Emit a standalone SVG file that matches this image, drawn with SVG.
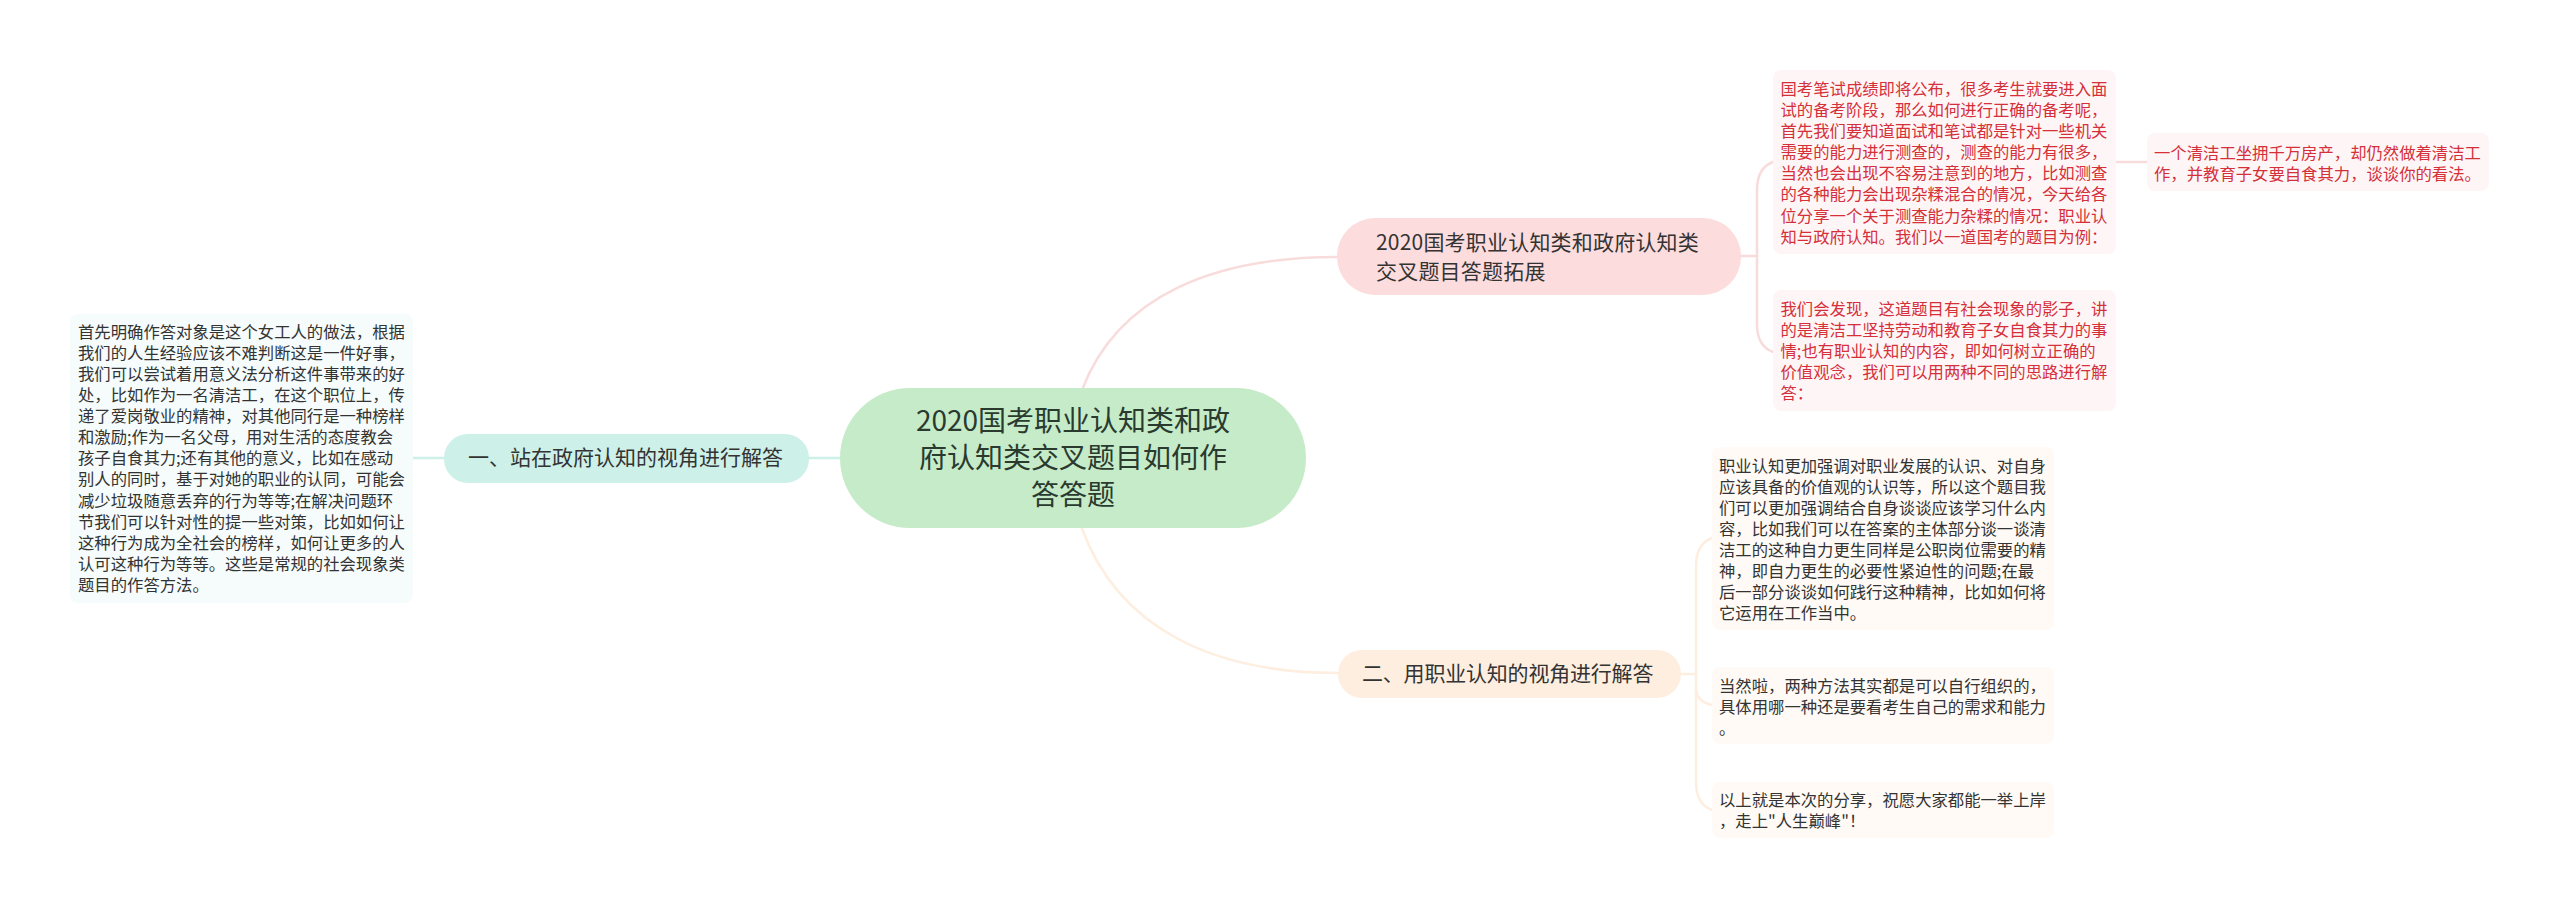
<svg xmlns="http://www.w3.org/2000/svg" width="2560" height="909" viewBox="0 0 2560 909">
<style>
text{font-family:"Noto Sans CJK SC","Noto Sans",sans-serif;fill:#333}
.d{font-size:16.35px}
.r{fill:#d5303a}
.b{font-size:21px}
.c{font-size:28px;text-anchor:middle;fill:#2a3a2e}
.l{fill:none;stroke-width:2.5;stroke-linecap:round}
.lp{stroke:#f8dcdc}.lm{stroke:#cdf0e8}.lo{stroke:#fdeee0}
</style>
<rect width="2560" height="909" fill="#fff"/>
<g id="connectors">
<path class="l lp" d="M1082 390C1118 295 1215 257 1337 257"/>
<path class="l lo" d="M1081 526C1118 630 1215 673 1338 673"/>
<path class="l lm" d="M809 458H840"/>
<path class="l lm" d="M413 458H444"/>
<path class="l lp" d="M1741 256H1757"/>
<path class="l lp" d="M1773 162C1762 166 1757 176 1757 190V324C1757 338 1762 348 1773 352"/>
<path class="l lp" d="M2116 162H2147"/>
<path class="l lo" d="M1681 674H1696"/>
<path class="l lo" d="M1712 538C1701 542 1696 552 1696 566V782C1696 796 1701 806 1712 810"/>
<path class="l lo" d="M1696 690C1697 698 1703 703 1712 705"/>
</g>
<g id="root">
<rect x="840" y="388" width="466" height="140" rx="70" fill="#c5ebc9"/>
<text class="c" x="1073" y="431">2020国考职业认知类和政</text>
<text class="c" x="1073" y="468">府认知类交叉题目如何作</text>
<text class="c" x="1073" y="505">答答题</text>
</g>
<g id="branch-1">
<rect x="1337" y="218" width="404" height="77" rx="38" fill="#fcdcdc"/>
<text class="b" x="1376" y="250" letter-spacing="0.2">2020国考职业认知类和政府认知类</text>
<text class="b" x="1376" y="279" letter-spacing="0.2">交叉题目答题拓展</text>
</g>
<g id="branch-2">
<rect x="1338" y="650" width="343" height="48" rx="24" fill="#fdeee0"/>
<text class="b" x="1362" y="681" letter-spacing="-0.2">二、用职业认知的视角进行解答</text>
</g>
<g id="branch-3">
<rect x="444" y="434" width="365" height="49" rx="24" fill="#cdf0e8"/>
<text class="b" x="468" y="465">一、站在政府认知的视角进行解答</text>
</g>
<g id="note-1">
<rect x="1773" y="70" width="343" height="184" rx="8" fill="#fef6f6"/>
<text class="d r" x="1780.5" y="95">国考笔试成绩即将公布，很多考生就要进入面</text>
<text class="d r" x="1780.5" y="116">试的备考阶段，那么如何进行正确的备考呢，</text>
<text class="d r" x="1780.5" y="137">首先我们要知道面试和笔试都是针对一些机关</text>
<text class="d r" x="1780.5" y="158">需要的能力进行测查的，测查的能力有很多，</text>
<text class="d r" x="1780.5" y="179">当然也会出现不容易注意到的地方，比如测查</text>
<text class="d r" x="1780.5" y="200">的各种能力会出现杂糅混合的情况，今天给各</text>
<text class="d r" x="1780.5" y="222">位分享一个关于测查能力杂糅的情况：职业认</text>
<text class="d r" x="1780.5" y="243">知与政府认知。我们以一道国考的题目为例：</text>
</g>
<g id="note-2">
<rect x="1773" y="290" width="343" height="121" rx="8" fill="#fef6f6"/>
<text class="d r" x="1780.5" y="315">我们会发现，这道题目有社会现象的影子，讲</text>
<text class="d r" x="1780.5" y="336">的是清洁工坚持劳动和教育子女自食其力的事</text>
<text class="d r" x="1780.5" y="357">情;也有职业认知的内容，即如何树立正确的</text>
<text class="d r" x="1780.5" y="378">价值观念，我们可以用两种不同的思路进行解</text>
<text class="d r" x="1780.5" y="399">答：</text>
</g>
<g id="note-3">
<rect x="2147" y="133" width="342" height="58" rx="8" fill="#fef6f6"/>
<text class="d r" x="2154" y="159">一个清洁工坐拥千万房产，却仍然做着清洁工</text>
<text class="d r" x="2154" y="180">作，并教育子女要自食其力，谈谈你的看法。</text>
</g>
<g id="note-4">
<rect x="1712" y="447" width="342" height="183" rx="8" fill="#fffaf5"/>
<text class="d" x="1719" y="472">职业认知更加强调对职业发展的认识、对自身</text>
<text class="d" x="1719" y="493">应该具备的价值观的认识等，所以这个题目我</text>
<text class="d" x="1719" y="514">们可以更加强调结合自身谈谈应该学习什么内</text>
<text class="d" x="1719" y="535">容，比如我们可以在答案的主体部分谈一谈清</text>
<text class="d" x="1719" y="556">洁工的这种自力更生同样是公职岗位需要的精</text>
<text class="d" x="1719" y="577">神，即自力更生的必要性紧迫性的问题;在最</text>
<text class="d" x="1719" y="598">后一部分谈谈如何践行这种精神，比如如何将</text>
<text class="d" x="1719" y="619">它运用在工作当中。</text>
</g>
<g id="note-5">
<rect x="1712" y="667" width="342" height="77" rx="8" fill="#fffaf5"/>
<text class="d" x="1719" y="692">当然啦，两种方法其实都是可以自行组织的，</text>
<text class="d" x="1719" y="713">具体用哪一种还是要看考生自己的需求和能力</text>
<text class="d" x="1719" y="734">。</text>
</g>
<g id="note-6">
<rect x="1712" y="782" width="342" height="56" rx="8" fill="#fffaf5"/>
<text class="d" x="1719" y="806">以上就是本次的分享，祝愿大家都能一举上岸</text>
<text class="d" x="1719" y="827">，走上"人生巅峰"！</text>
</g>
<g id="note-7">
<rect x="70" y="314" width="343" height="289" rx="8" fill="#f5fcfb"/>
<text class="d" x="78" y="338">首先明确作答对象是这个女工人的做法，根据</text>
<text class="d" x="78" y="359">我们的人生经验应该不难判断这是一件好事，</text>
<text class="d" x="78" y="380">我们可以尝试着用意义法分析这件事带来的好</text>
<text class="d" x="78" y="401">处，比如作为一名清洁工，在这个职位上，传</text>
<text class="d" x="78" y="422">递了爱岗敬业的精神，对其他同行是一种榜样</text>
<text class="d" x="78" y="443">和激励;作为一名父母，用对生活的态度教会</text>
<text class="d" x="78" y="464">孩子自食其力;还有其他的意义，比如在感动</text>
<text class="d" x="78" y="485">别人的同时，基于对她的职业的认同，可能会</text>
<text class="d" x="78" y="507">减少垃圾随意丢弃的行为等等;在解决问题环</text>
<text class="d" x="78" y="528">节我们可以针对性的提一些对策，比如如何让</text>
<text class="d" x="78" y="549">这种行为成为全社会的榜样，如何让更多的人</text>
<text class="d" x="78" y="570">认可这种行为等等。这些是常规的社会现象类</text>
<text class="d" x="78" y="591">题目的作答方法。</text>
</g>
</svg>
